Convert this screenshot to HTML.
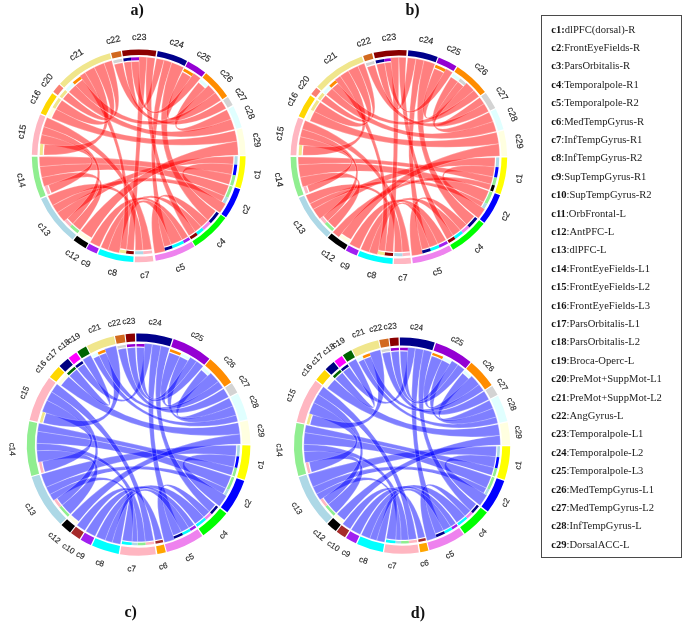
<!DOCTYPE html>
<html><head><meta charset="utf-8"><style>
html,body{margin:0;padding:0;background:#fff;}
body{width:685px;height:626px;position:relative;overflow:hidden;}
svg{position:absolute;left:0;top:0;}
.wrap{position:absolute;left:0;top:0;width:685px;height:626px;filter:blur(0.4px);}
.lab{position:absolute;font-family:"Liberation Serif",serif;font-weight:bold;font-size:16px;line-height:1;color:#111;}
.box{position:absolute;left:541.4px;top:14.7px;width:141px;height:543.6px;border:1px solid #4a4a4a;box-sizing:border-box;}
.li{position:absolute;left:551.2px;font-family:"Liberation Serif",serif;font-size:10.6px;line-height:1;color:#222;white-space:nowrap;}
.li b{font-weight:bold;color:#111;}
</style></head><body>
<div class="wrap">
<svg width="685" height="626" viewBox="0 0 685 626">
<g transform="translate(138.7 155.8) scale(1.0047 1) translate(-138.7 -155.8)">
<g fill="#FF0000" fill-opacity="0.5" stroke="#fff" stroke-opacity="0.55" stroke-width="0.45">
<path d="M233.1 156.29A94.4 94.4 0 0 1 232.71 164.36Q138.7 155.8 64.44 221.27A99 99 0 0 1 57.64 212.64Q138.7 155.8 233.1 156.29Z"/>
<path d="M224.12 195.99A94.4 94.4 0 0 1 221.26 201.57Q138.7 155.8 57.64 212.64A99 99 0 0 1 53.05 205.45Q138.7 155.8 224.12 195.99Z"/>
<path d="M142.98 250.1A94.4 94.4 0 0 1 135.24 250.14Q138.7 155.8 53.05 205.45A99 99 0 0 1 48.26 196.07Q138.7 155.8 142.98 250.1Z"/>
<path d="M232.71 164.36A94.4 94.4 0 0 1 231.2 174.62Q138.7 155.8 225.29 203.8A99 99 0 0 1 219.6 212.87Q138.7 155.8 232.71 164.36Z"/>
<path d="M80.32 229.98A94.4 94.4 0 0 1 73.12 223.71Q138.7 155.8 44.55 186.39A99 99 0 0 1 42.1 177.45Q138.7 155.8 80.32 229.98Z"/>
<path d="M228.33 185.44A94.4 94.4 0 0 1 224.12 195.99Q138.7 155.8 42.1 177.45A99 99 0 0 1 40.29 166.56Q138.7 155.8 228.33 185.44Z"/>
<path d="M231.2 174.62A94.4 94.4 0 0 1 228.63 184.5Q138.7 155.8 40.29 166.56A99 99 0 0 1 39.7 156.66Q138.7 155.8 231.2 174.62Z"/>
<path d="M123.93 62.56A94.4 94.4 0 0 1 131.29 61.69Q138.7 155.8 156.4 58.4A99 99 0 0 1 164.03 60.1Q138.7 155.8 123.93 62.56Z"/>
<path d="M171.14 244.45A94.4 94.4 0 0 1 163.93 246.77Q138.7 155.8 164.03 60.1A99 99 0 0 1 171.67 62.45Q138.7 155.8 171.14 244.45Z"/>
<path d="M215.26 211.02A94.4 94.4 0 0 1 207.51 220.42Q138.7 155.8 171.67 62.45A99 99 0 0 1 183.49 67.51Q138.7 155.8 215.26 211.02Z"/>
<path d="M207.51 220.42A94.4 94.4 0 0 1 200.88 226.83Q138.7 155.8 165.16 251.2A99 99 0 0 1 154.53 253.53Q138.7 155.8 207.51 220.42Z"/>
<path d="M182 239.69A94.4 94.4 0 0 1 171.14 244.45Q138.7 155.8 119.3 252.88A99 99 0 0 1 107.99 249.92Q138.7 155.8 182 239.69Z"/>
<path d="M200.88 226.83A94.4 94.4 0 0 1 194.98 231.59Q138.7 155.8 107.99 249.92A99 99 0 0 1 100.97 247.33Q138.7 155.8 200.88 226.83Z"/>
<path d="M133.92 250.08A94.4 94.4 0 0 1 126.54 249.41Q138.7 155.8 139.05 56.8A99 99 0 0 1 146.98 57.15Q138.7 155.8 133.92 250.08Z"/>
<path d="M194.98 231.59A94.4 94.4 0 0 1 188.72 235.86Q138.7 155.8 146.98 57.15A99 99 0 0 1 155.04 58.16Q138.7 155.8 194.98 231.59Z"/>
<path d="M187.88 236.38A94.4 94.4 0 0 1 182 239.69Q138.7 155.8 99.7 246.79A99 99 0 0 1 90.4 242.22Q138.7 155.8 187.88 236.38Z"/>
<path d="M51.93 192.99A94.4 94.4 0 0 1 48.92 184.97Q138.7 155.8 40.44 143.73A99 99 0 0 1 42.02 134.47Q138.7 155.8 51.93 192.99Z"/>
<path d="M73.12 223.71A94.4 94.4 0 0 1 67.89 218.23Q138.7 155.8 42.02 134.47A99 99 0 0 1 44.16 126.44Q138.7 155.8 73.12 223.71Z"/>
<path d="M151.67 249.3A94.4 94.4 0 0 1 142.98 250.1Q138.7 155.8 44.16 126.44A99 99 0 0 1 47.44 117.44Q138.7 155.8 151.67 249.3Z"/>
<path d="M126.54 249.41A94.4 94.4 0 0 1 120.2 248.37Q138.7 155.8 80.09 76.01A99 99 0 0 1 85.32 72.43Q138.7 155.8 126.54 249.41Z"/>
<path d="M44.3 154.98A94.4 94.4 0 0 1 45 144.3Q138.7 155.8 85.32 72.43A99 99 0 0 1 94.5 67.21Q138.7 155.8 44.3 154.98Z"/>
<path d="M56.54 109.32A94.4 94.4 0 0 1 62.33 100.31Q138.7 155.8 94.5 67.21A99 99 0 0 1 104.19 63.01Q138.7 155.8 56.54 109.32Z"/>
<path d="M63.31 98.99A94.4 94.4 0 0 1 68.55 92.63Q138.7 155.8 104.19 63.01A99 99 0 0 1 111.91 60.49Q138.7 155.8 63.31 98.99Z"/>
<path d="M52.13 118.16A94.4 94.4 0 0 1 56.54 109.32Q138.7 155.8 234.42 130.51A99 99 0 0 1 236.61 141.18Q138.7 155.8 52.13 118.16Z"/>
<path d="M91.79 237.72A94.4 94.4 0 0 1 81.23 230.69Q138.7 155.8 236.61 141.18A99 99 0 0 1 237.7 155.11Q138.7 155.8 91.79 237.72Z"/>
<path d="M198.24 82.54A94.4 94.4 0 0 1 204.87 88.47Q138.7 155.8 226.35 109.78A99 99 0 0 1 230.68 119.18Q138.7 155.8 198.24 82.54Z"/>
<path d="M69.21 91.9A94.4 94.4 0 0 1 75.78 85.43Q138.7 155.8 230.68 119.18A99 99 0 0 1 234.1 129.34Q138.7 155.8 69.21 91.9Z"/>
<path d="M182.29 72.07A94.4 94.4 0 0 1 190.8 77.08Q138.7 155.8 208.09 85.19A99 99 0 0 1 214.98 92.69Q138.7 155.8 182.29 72.07Z"/>
<path d="M75.78 85.43A94.4 94.4 0 0 1 82.81 79.72Q138.7 155.8 214.98 92.69A99 99 0 0 1 220.58 100.15Q138.7 155.8 75.78 85.43Z"/>
<path d="M114.27 64.62A94.4 94.4 0 0 1 122.79 62.75Q138.7 155.8 221.25 101.16A99 99 0 0 1 225.7 108.56Q138.7 155.8 114.27 64.62Z"/>
<path d="M131.29 61.69A94.4 94.4 0 0 1 139.03 61.4Q138.7 155.8 193.34 73.25A99 99 0 0 1 200.19 78.21Q138.7 155.8 131.29 61.69Z"/>
</g>
<g>
<path fill="#ADD8E6" d="M237.2 156.32A98.5 98.5 0 0 1 236.79 164.73L233.81 164.46A95.5 95.5 0 0 0 234.2 156.3Z"/>
<path fill="#0000FF" d="M236.79 164.73A98.5 98.5 0 0 1 235.22 175.44L232.28 174.84A95.5 95.5 0 0 0 233.81 164.46Z"/>
<path fill="#90EE90" d="M235.22 175.44A98.5 98.5 0 0 1 232.54 185.75L229.68 184.84A95.5 95.5 0 0 0 232.28 174.84Z"/>
<path fill="#90EE90" d="M232.22 186.73A98.5 98.5 0 0 1 227.83 197.74L225.11 196.46A95.5 95.5 0 0 0 229.37 185.79Z"/>
<path fill="#ADD8E6" d="M227.83 197.74A98.5 98.5 0 0 1 224.85 203.55L222.23 202.1A95.5 95.5 0 0 0 225.11 196.46Z"/>
<path fill="#00008B" d="M218.59 213.42A98.5 98.5 0 0 1 210.5 223.23L208.32 221.17A95.5 95.5 0 0 0 216.16 211.66Z"/>
<path fill="#EE82EE" d="M210.5 223.23A98.5 98.5 0 0 1 203.58 229.91L201.6 227.66A95.5 95.5 0 0 0 208.32 221.17Z"/>
<path fill="#00FFFF" d="M203.58 229.91A98.5 98.5 0 0 1 197.43 234.88L195.64 232.47A95.5 95.5 0 0 0 201.6 227.66Z"/>
<path fill="#8B0000" d="M197.43 234.88A98.5 98.5 0 0 1 190.9 239.33L189.31 236.79A95.5 95.5 0 0 0 195.64 232.47Z"/>
<path fill="#A020F0" d="M190.02 239.87A98.5 98.5 0 0 1 183.88 243.33L182.5 240.66A95.5 95.5 0 0 0 188.46 237.31Z"/>
<path fill="#00FFFF" d="M183.88 243.33A98.5 98.5 0 0 1 172.55 248.3L171.52 245.48A95.5 95.5 0 0 0 182.5 240.66Z"/>
<path fill="#00008B" d="M172.55 248.3A98.5 98.5 0 0 1 165.02 250.72L164.22 247.83A95.5 95.5 0 0 0 171.52 245.48Z"/>
<path fill="#FFB6C1" d="M152.24 253.37A98.5 98.5 0 0 1 143.17 254.2L143.03 251.2A95.5 95.5 0 0 0 151.83 250.39Z"/>
<path fill="#ADD8E6" d="M143.17 254.2A98.5 98.5 0 0 1 135.09 254.23L135.2 251.24A95.5 95.5 0 0 0 143.03 251.2Z"/>
<path fill="#8B0000" d="M133.72 254.17A98.5 98.5 0 0 1 126.01 253.48L126.4 250.5A95.5 95.5 0 0 0 133.87 251.18Z"/>
<path fill="#F0E68C" d="M126.01 253.48A98.5 98.5 0 0 1 119.4 252.39L119.99 249.45A95.5 95.5 0 0 0 126.4 250.5Z"/>
<path fill="#FFFFE0" d="M89.75 241.27A98.5 98.5 0 0 1 78.74 233.95L80.56 231.57A95.5 95.5 0 0 0 91.24 238.67Z"/>
<path fill="#90EE90" d="M77.79 233.21A98.5 98.5 0 0 1 70.28 226.65L72.36 224.5A95.5 95.5 0 0 0 79.64 230.85Z"/>
<path fill="#FFB6C1" d="M70.28 226.65A98.5 98.5 0 0 1 64.81 220.94L67.06 218.96A95.5 95.5 0 0 0 72.36 224.5Z"/>
<path fill="#FFB6C1" d="M48.17 194.6A98.5 98.5 0 0 1 45.02 186.24L47.87 185.31A95.5 95.5 0 0 0 50.92 193.42Z"/>
<path fill="#F0E68C" d="M40.2 154.94A98.5 98.5 0 0 1 40.93 143.8L43.91 144.16A95.5 95.5 0 0 0 43.2 154.97Z"/>
<path fill="#FFFFE0" d="M48.37 116.52A98.5 98.5 0 0 1 52.97 107.3L55.58 108.77A95.5 95.5 0 0 0 51.12 117.72Z"/>
<path fill="#F0E68C" d="M52.97 107.3A98.5 98.5 0 0 1 59.01 97.9L61.44 99.67A95.5 95.5 0 0 0 55.58 108.77Z"/>
<path fill="#F0E68C" d="M60.03 96.52A98.5 98.5 0 0 1 65.5 89.89L67.73 91.9A95.5 95.5 0 0 0 62.43 98.33Z"/>
<path fill="#E0FFFF" d="M66.19 89.13A98.5 98.5 0 0 1 73.05 82.37L75.05 84.61A95.5 95.5 0 0 0 68.4 91.16Z"/>
<path fill="#FF8C00" d="M73.05 82.37A98.5 98.5 0 0 1 80.39 76.42L82.16 78.83A95.5 95.5 0 0 0 75.05 84.61Z"/>
<path fill="#D3D3D3" d="M113.21 60.66A98.5 98.5 0 0 1 122.1 58.71L122.61 61.67A95.5 95.5 0 0 0 113.98 63.55Z"/>
<path fill="#00008B" d="M123.29 58.51A98.5 98.5 0 0 1 130.97 57.6L131.21 60.59A95.5 95.5 0 0 0 123.76 61.48Z"/>
<path fill="#9400D3" d="M130.97 57.6A98.5 98.5 0 0 1 139.04 57.3L139.03 60.3A95.5 95.5 0 0 0 131.21 60.59Z"/>
<path fill="#FF8C00" d="M184.18 68.43A98.5 98.5 0 0 1 193.07 73.66L191.41 76.16A95.5 95.5 0 0 0 182.8 71.09Z"/>
<path fill="#E0FFFF" d="M200.82 79.36A98.5 98.5 0 0 1 207.74 85.54L205.64 87.68A95.5 95.5 0 0 0 198.93 81.69Z"/>
</g>
<g>
<path fill="#FFFF00" d="M245.1 156.36A106.4 106.4 0 0 1 240.06 188.15L234.73 186.45A100.8 100.8 0 0 0 239.5 156.33Z"/>
<path fill="#0000FF" d="M239.72 189.21A106.4 106.4 0 0 1 225.64 217.13L221.07 213.9A100.8 100.8 0 0 0 234.4 187.45Z"/>
<path fill="#00FF00" d="M225 218.04A106.4 106.4 0 0 1 195.08 246.03L192.12 241.28A100.8 100.8 0 0 0 220.46 214.76Z"/>
<path fill="#EE82EE" d="M194.14 246.62A106.4 106.4 0 0 1 155.71 260.83L154.82 255.3A100.8 100.8 0 0 0 191.22 241.84Z"/>
<path fill="#FFB6C1" d="M153.32 261.19A106.4 106.4 0 0 1 134.8 262.13L135.01 256.53A100.8 100.8 0 0 0 152.55 255.64Z"/>
<path fill="#00FFFF" d="M133.32 262.06A106.4 106.4 0 0 1 98.15 254.17L100.29 248.99A100.8 100.8 0 0 0 133.6 256.47Z"/>
<path fill="#A020F0" d="M96.78 253.6A106.4 106.4 0 0 1 86.79 248.68L89.52 243.79A100.8 100.8 0 0 0 98.99 248.45Z"/>
<path fill="#000000" d="M85.82 248.13A106.4 106.4 0 0 1 73.93 240.21L77.34 235.77A100.8 100.8 0 0 0 88.61 243.27Z"/>
<path fill="#ADD8E6" d="M72.9 239.42A106.4 106.4 0 0 1 41.5 199.08L46.61 196.8A100.8 100.8 0 0 0 76.36 235.01Z"/>
<path fill="#90EE90" d="M40.9 197.72A106.4 106.4 0 0 1 32.3 156.73L37.9 156.68A100.8 100.8 0 0 0 46.05 195.51Z"/>
<path fill="#FFB6C1" d="M32.3 154.87A106.4 106.4 0 0 1 40.61 114.57L45.78 116.74A100.8 100.8 0 0 0 37.9 154.92Z"/>
<path fill="#FFD700" d="M41.12 113.37A106.4 106.4 0 0 1 52.62 93.26L57.15 96.55A100.8 100.8 0 0 0 46.26 115.61Z"/>
<path fill="#FA8072" d="M53.73 91.77A106.4 106.4 0 0 1 59.63 84.6L63.79 88.35A100.8 100.8 0 0 0 58.2 95.14Z"/>
<path fill="#F0E68C" d="M60.38 83.78A106.4 106.4 0 0 1 109.91 53.37L111.42 58.76A100.8 100.8 0 0 0 64.5 87.57Z"/>
<path fill="#D2691E" d="M111.16 53.03A106.4 106.4 0 0 1 120.77 50.92L121.72 56.44A100.8 100.8 0 0 0 112.61 58.43Z"/>
<path fill="#8B0000" d="M122.06 50.71A106.4 106.4 0 0 1 156.26 50.86L155.34 56.38A100.8 100.8 0 0 0 122.93 56.24Z"/>
<path fill="#00008B" d="M157.72 51.11A106.4 106.4 0 0 1 186.84 60.91L184.31 65.91A100.8 100.8 0 0 0 156.72 56.62Z"/>
<path fill="#9400D3" d="M187.83 61.42A106.4 106.4 0 0 1 204.79 72.42L201.31 76.8A100.8 100.8 0 0 0 185.24 66.39Z"/>
<path fill="#FF8C00" d="M205.8 73.23A106.4 106.4 0 0 1 226.7 95.99L222.07 99.14A100.8 100.8 0 0 0 202.27 77.57Z"/>
<path fill="#D3D3D3" d="M227.43 97.07A106.4 106.4 0 0 1 232.21 105.03L227.28 107.7A100.8 100.8 0 0 0 222.76 100.16Z"/>
<path fill="#E0FFFF" d="M232.91 106.34A106.4 106.4 0 0 1 241.23 127.37L235.83 128.86A100.8 100.8 0 0 0 227.95 108.94Z"/>
<path fill="#FFFFE0" d="M241.57 128.62A106.4 106.4 0 0 1 245.1 155.06L239.5 155.1A100.8 100.8 0 0 0 236.16 130.05Z"/>
</g>
</g>
<g font-family="Liberation Sans, sans-serif" font-size="9.0" fill="#2a2a2a" stroke="#2a2a2a" stroke-width="0.15" text-anchor="middle">
<text transform="translate(260.03 174.93) rotate(-81)">c1</text>
<text transform="translate(248.39 210.84) rotate(-63.25)">c2</text>
<text transform="translate(222.63 245.08) rotate(-43.1)">c4</text>
<text transform="translate(181.32 270.49) rotate(-20.3)">c5</text>
<text transform="translate(144.91 277.92) rotate(-2.9)">c7</text>
<text transform="translate(111.8 275.11) rotate(12.65)">c8</text>
<text transform="translate(84.47 265.52) rotate(26.2)">c9</text>
<text transform="translate(70.63 257.59) rotate(33.65)">c12</text>
<text transform="translate(41.77 230.91) rotate(52.1)">c13</text>
<text transform="translate(18.48 180.91) rotate(78.15)">c14</text>
<text transform="translate(24.74 132.42) rotate(281.65)">c15</text>
<text transform="translate(37.68 98.34) rotate(299.75)">c16</text>
<text transform="translate(48.91 82.14) rotate(309.5)">c20</text>
<text transform="translate(77.82 57.12) rotate(328.45)">c21</text>
<text transform="translate(113.81 42.68) rotate(347.65)">c22</text>
<text transform="translate(139.21 40) rotate(360.25)">c23</text>
<text transform="translate(175.81 46.05) rotate(378.6)">c24</text>
<text transform="translate(201.99 58.63) rotate(392.95)">c25</text>
<text transform="translate(224.42 77.49) rotate(407.45)">c26</text>
<text transform="translate(238.44 96.16) rotate(419)">c27</text>
<text transform="translate(246.89 113.17) rotate(428.4)">c28</text>
<text transform="translate(254.04 140.48) rotate(442.4)">c29</text>
</g>
<g transform="translate(398.9 157) scale(1.0112 1) translate(-398.9 -157)">
<g fill="#FF0000" fill-opacity="0.5" stroke="#fff" stroke-opacity="0.55" stroke-width="0.45">
<path d="M494 157.5A95.1 95.1 0 0 1 493.48 166.94Q398.9 157 320.66 218.79A99.7 99.7 0 0 1 314.05 209.36Q398.9 157 494 157.5Z"/>
<path d="M482.63 202.09A95.1 95.1 0 0 1 479.99 206.69Q398.9 157 314.05 209.36A99.7 99.7 0 0 1 310.84 203.75Q398.9 157 482.63 202.09Z"/>
<path d="M402.22 252.04A95.1 95.1 0 0 1 394.42 251.99Q398.9 157 310.84 203.75A99.7 99.7 0 0 1 306.79 195.15Q398.9 157 402.22 252.04Z"/>
<path d="M493.48 166.94A95.1 95.1 0 0 1 491.89 176.93Q398.9 157 483.91 209.09A99.7 99.7 0 0 1 477.57 218.24Q398.9 157 493.48 166.94Z"/>
<path d="M335.64 228.01A95.1 95.1 0 0 1 328.56 221Q398.9 157 303.81 186.98A99.7 99.7 0 0 1 301.26 177.16Q398.9 157 335.64 228.01Z"/>
<path d="M487.74 190.93A95.1 95.1 0 0 1 482.63 202.09Q398.9 157 301.26 177.16A99.7 99.7 0 0 1 299.5 164.77Q398.9 157 487.74 190.93Z"/>
<path d="M491.89 176.93A95.1 95.1 0 0 1 489.99 184.33Q398.9 157 299.5 164.77A99.7 99.7 0 0 1 299.2 157Q398.9 157 491.89 176.93Z"/>
<path d="M489.99 184.33A95.1 95.1 0 0 1 488.09 189.99Q398.9 157 339.6 237.14A99.7 99.7 0 0 1 333.49 232.24Q398.9 157 489.99 184.33Z"/>
<path d="M376.7 64.53A95.1 95.1 0 0 1 384.84 62.94Q398.9 157 407.59 57.68A99.7 99.7 0 0 1 415.85 58.75Q398.9 157 376.7 64.53Z"/>
<path d="M429.23 247.13A95.1 95.1 0 0 1 421.42 249.39Q398.9 157 415.85 58.75A99.7 99.7 0 0 1 423.84 60.47Q398.9 157 429.23 247.13Z"/>
<path d="M473.33 216.2A95.1 95.1 0 0 1 465.79 224.6Q398.9 157 423.84 60.47A99.7 99.7 0 0 1 434.63 63.92Q398.9 157 473.33 216.2Z"/>
<path d="M465.79 224.6A95.1 95.1 0 0 1 459.65 230.17Q398.9 157 422.51 253.86A99.7 99.7 0 0 1 411.74 255.87Q398.9 157 465.79 224.6Z"/>
<path d="M437.43 243.95A95.1 95.1 0 0 1 429.23 247.13Q398.9 157 377.66 254.41A99.7 99.7 0 0 1 369.33 252.21Q398.9 157 437.43 243.95Z"/>
<path d="M459.65 230.17A95.1 95.1 0 0 1 452.49 235.56Q398.9 157 369.33 252.21A99.7 99.7 0 0 1 361.07 249.24Q398.9 157 459.65 230.17Z"/>
<path d="M393.26 251.93A95.1 95.1 0 0 1 385.17 251.1Q398.9 157 390.73 57.64A99.7 99.7 0 0 1 398.88 57.3Q398.9 157 393.26 251.93Z"/>
<path d="M452.49 235.56A95.1 95.1 0 0 1 446.45 239.36Q398.9 157 398.88 57.3A99.7 99.7 0 0 1 406.03 57.56Q398.9 157 452.49 235.56Z"/>
<path d="M445.44 239.93A95.1 95.1 0 0 1 437.43 243.95Q398.9 157 359.94 248.77A99.7 99.7 0 0 1 350.11 243.95Q398.9 157 445.44 239.93Z"/>
<path d="M310.54 192.16A95.1 95.1 0 0 1 308.2 185.6Q398.9 157 299.94 144.85A99.7 99.7 0 0 1 301.31 136.62Q398.9 157 310.54 192.16Z"/>
<path d="M328.56 221A95.1 95.1 0 0 1 324.27 215.94Q398.9 157 301.31 136.62A99.7 99.7 0 0 1 303.24 128.91Q398.9 157 328.56 221Z"/>
<path d="M409.67 251.49A95.1 95.1 0 0 1 402.22 252.04Q398.9 157 303.24 128.91A99.7 99.7 0 0 1 306.14 120.46Q398.9 157 409.67 251.49Z"/>
<path d="M385.17 251.1A95.1 95.1 0 0 1 378.64 249.92Q398.9 157 335.75 79.85A99.7 99.7 0 0 1 340.83 75.96Q398.9 157 385.17 251.1Z"/>
<path d="M303.81 155.34A95.1 95.1 0 0 1 304.51 145.41Q398.9 157 340.83 75.96A99.7 99.7 0 0 1 348.88 70.76Q398.9 157 303.81 155.34Z"/>
<path d="M315.32 111.62A95.1 95.1 0 0 1 321.09 102.32Q398.9 157 348.88 70.76A99.7 99.7 0 0 1 358.27 65.96Q398.9 157 315.32 111.62Z"/>
<path d="M321.96 101.1A95.1 95.1 0 0 1 326.37 95.49Q398.9 157 358.27 65.96A99.7 99.7 0 0 1 364.64 63.37Q398.9 157 321.96 101.1Z"/>
<path d="M310.91 120.91A95.1 95.1 0 0 1 315.32 111.62Q398.9 157 495.51 132.37A99.7 99.7 0 0 1 497.72 143.79Q398.9 157 310.91 120.91Z"/>
<path d="M351.35 239.36A95.1 95.1 0 0 1 342.33 233.45Q398.9 157 497.72 143.79A99.7 99.7 0 0 1 498.59 155.96Q398.9 157 351.35 239.36Z"/>
<path d="M450.42 77.06A95.1 95.1 0 0 1 457.19 81.86Q398.9 157 488.05 112.36A99.7 99.7 0 0 1 492.1 121.6Q398.9 157 450.42 77.06Z"/>
<path d="M327.13 94.61A95.1 95.1 0 0 1 332.84 88.59Q398.9 157 492.1 121.6A99.7 99.7 0 0 1 495.2 131.2Q398.9 157 327.13 94.61Z"/>
<path d="M433.91 68.58A95.1 95.1 0 0 1 443.25 72.88Q398.9 157 465.74 83.03A99.7 99.7 0 0 1 473.08 90.38Q398.9 157 433.91 68.58Z"/>
<path d="M332.84 88.59A95.1 95.1 0 0 1 338.67 83.41Q398.9 157 473.08 90.38A99.7 99.7 0 0 1 478.1 96.44Q398.9 157 332.84 88.59Z"/>
<path d="M457.19 81.86A95.1 95.1 0 0 1 462.66 86.44Q398.9 157 478.84 97.42A99.7 99.7 0 0 1 483.21 103.78Q398.9 157 457.19 81.86Z"/>
<path d="M367.47 67.24A95.1 95.1 0 0 1 375.25 64.89Q398.9 157 483.21 103.78A99.7 99.7 0 0 1 487.57 111.43Q398.9 157 367.47 67.24Z"/>
<path d="M384.84 62.94A95.1 95.1 0 0 1 391.11 62.22Q398.9 157 445.4 68.81A99.7 99.7 0 0 1 451.88 72.54Q398.9 157 384.84 62.94Z"/>
</g>
<g>
<path fill="#ADD8E6" d="M498.1 157.52A99.2 99.2 0 0 1 497.56 167.37L494.57 167.06A96.2 96.2 0 0 0 495.1 157.5Z"/>
<path fill="#0000FF" d="M497.56 167.37A99.2 99.2 0 0 1 495.9 177.79L492.96 177.17A96.2 96.2 0 0 0 494.57 167.06Z"/>
<path fill="#90EE90" d="M495.9 177.79A99.2 99.2 0 0 1 493.92 185.51L491.04 184.64A96.2 96.2 0 0 0 492.96 177.17Z"/>
<path fill="#000000" d="M493.92 185.51A99.2 99.2 0 0 1 491.94 191.42L489.12 190.38A96.2 96.2 0 0 0 491.04 184.64Z"/>
<path fill="#90EE90" d="M491.57 192.39A99.2 99.2 0 0 1 486.24 204.03L483.6 202.61A96.2 96.2 0 0 0 488.77 191.32Z"/>
<path fill="#ADD8E6" d="M486.24 204.03A99.2 99.2 0 0 1 483.48 208.83L480.92 207.26A96.2 96.2 0 0 0 483.6 202.61Z"/>
<path fill="#00008B" d="M476.53 218.75A99.2 99.2 0 0 1 468.68 227.51L466.57 225.38A96.2 96.2 0 0 0 474.19 216.89Z"/>
<path fill="#EE82EE" d="M468.68 227.51A99.2 99.2 0 0 1 462.27 233.32L460.35 231.02A96.2 96.2 0 0 0 466.57 225.38Z"/>
<path fill="#00FFFF" d="M462.27 233.32A99.2 99.2 0 0 1 454.8 238.95L453.11 236.47A96.2 96.2 0 0 0 460.35 231.02Z"/>
<path fill="#8B0000" d="M454.8 238.95A99.2 99.2 0 0 1 448.5 242.91L447 240.31A96.2 96.2 0 0 0 453.11 236.47Z"/>
<path fill="#A020F0" d="M447.45 243.51A99.2 99.2 0 0 1 439.09 247.69L437.87 244.95A96.2 96.2 0 0 0 445.98 240.89Z"/>
<path fill="#00FFFF" d="M439.09 247.69A99.2 99.2 0 0 1 430.54 251.02L429.58 248.18A96.2 96.2 0 0 0 437.87 244.95Z"/>
<path fill="#00008B" d="M430.54 251.02A99.2 99.2 0 0 1 422.39 253.38L421.68 250.46A96.2 96.2 0 0 0 429.58 248.18Z"/>
<path fill="#FFB6C1" d="M410.13 255.56A99.2 99.2 0 0 1 402.36 256.14L402.26 253.14A96.2 96.2 0 0 0 409.79 252.58Z"/>
<path fill="#ADD8E6" d="M402.36 256.14A99.2 99.2 0 0 1 394.23 256.09L394.37 253.09A96.2 96.2 0 0 0 402.26 253.14Z"/>
<path fill="#8B0000" d="M393.02 256.03A99.2 99.2 0 0 1 384.58 255.16L385.01 252.19A96.2 96.2 0 0 0 393.19 253.03Z"/>
<path fill="#F0E68C" d="M384.58 255.16A99.2 99.2 0 0 1 377.77 253.92L378.41 250.99A96.2 96.2 0 0 0 385.01 252.19Z"/>
<path fill="#FFFFE0" d="M349.3 242.91A99.2 99.2 0 0 1 339.89 236.74L341.68 234.33A96.2 96.2 0 0 0 350.8 240.31Z"/>
<path fill="#90EE90" d="M332.91 231.07A99.2 99.2 0 0 1 325.53 223.76L327.75 221.74A96.2 96.2 0 0 0 334.9 228.83Z"/>
<path fill="#FFB6C1" d="M325.53 223.76A99.2 99.2 0 0 1 321.05 218.48L323.4 216.62A96.2 96.2 0 0 0 327.75 221.74Z"/>
<path fill="#FFB6C1" d="M306.73 193.68A99.2 99.2 0 0 1 304.29 186.83L307.15 185.93A96.2 96.2 0 0 0 309.52 192.57Z"/>
<path fill="#F0E68C" d="M299.72 155.27A99.2 99.2 0 0 1 300.44 144.91L303.42 145.28A96.2 96.2 0 0 0 302.71 155.32Z"/>
<path fill="#FFFFE0" d="M307.12 119.36A99.2 99.2 0 0 1 311.72 109.67L314.36 111.1A96.2 96.2 0 0 0 309.89 120.5Z"/>
<path fill="#F0E68C" d="M311.72 109.67A99.2 99.2 0 0 1 317.74 99.96L320.19 101.68A96.2 96.2 0 0 0 314.36 111.1Z"/>
<path fill="#F0E68C" d="M318.65 98.69A99.2 99.2 0 0 1 323.24 92.84L325.53 94.78A96.2 96.2 0 0 0 321.07 100.46Z"/>
<path fill="#E0FFFF" d="M324.03 91.92A99.2 99.2 0 0 1 329.99 85.64L332.07 87.8A96.2 96.2 0 0 0 326.3 93.89Z"/>
<path fill="#FF8C00" d="M329.99 85.64A99.2 99.2 0 0 1 336.07 80.24L337.97 82.56A96.2 96.2 0 0 0 332.07 87.8Z"/>
<path fill="#D3D3D3" d="M366.11 63.37A99.2 99.2 0 0 1 374.23 60.92L374.98 63.82A96.2 96.2 0 0 0 367.1 66.21Z"/>
<path fill="#00008B" d="M375.74 60.54A99.2 99.2 0 0 1 384.24 58.89L384.68 61.86A96.2 96.2 0 0 0 376.44 63.46Z"/>
<path fill="#9400D3" d="M384.24 58.89A99.2 99.2 0 0 1 390.77 58.13L391.02 61.12A96.2 96.2 0 0 0 384.68 61.86Z"/>
<path fill="#FF8C00" d="M435.42 64.77A99.2 99.2 0 0 1 445.17 69.25L443.77 71.9A96.2 96.2 0 0 0 434.31 67.56Z"/>
<path fill="#E0FFFF" d="M452.64 73.62A99.2 99.2 0 0 1 459.7 78.62L457.86 80.99A96.2 96.2 0 0 0 451.01 76.14Z"/>
<path fill="#D3D3D3" d="M459.7 78.62A99.2 99.2 0 0 1 465.41 83.4L463.4 85.62A96.2 96.2 0 0 0 457.86 80.99Z"/>
</g>
<g>
<path fill="#FFFF00" d="M506 157.56A107.1 107.1 0 0 1 499.35 194.16L494.1 192.21A101.5 101.5 0 0 0 500.4 157.53Z"/>
<path fill="#0000FF" d="M498.95 195.21A107.1 107.1 0 0 1 483.41 222.79L478.99 219.35A101.5 101.5 0 0 0 493.72 193.21Z"/>
<path fill="#00FF00" d="M482.72 223.67A107.1 107.1 0 0 1 452.45 249.75L449.65 244.9A101.5 101.5 0 0 0 478.33 220.19Z"/>
<path fill="#EE82EE" d="M451.31 250.4A107.1 107.1 0 0 1 412.69 263.21L411.97 257.65A101.5 101.5 0 0 0 448.57 245.52Z"/>
<path fill="#FFB6C1" d="M411.02 263.41A107.1 107.1 0 0 1 393.85 263.98L394.12 258.39A101.5 101.5 0 0 0 410.39 257.85Z"/>
<path fill="#00FFFF" d="M392.55 263.91A107.1 107.1 0 0 1 358.26 256.09L360.39 250.91A101.5 101.5 0 0 0 392.88 258.32Z"/>
<path fill="#A020F0" d="M357.05 255.59A107.1 107.1 0 0 1 346.49 250.4L349.23 245.52A101.5 101.5 0 0 0 359.24 250.43Z"/>
<path fill="#000000" d="M345.35 249.75A107.1 107.1 0 0 1 328.64 237.83L332.31 233.6A101.5 101.5 0 0 0 348.15 244.9Z"/>
<path fill="#ADD8E6" d="M327.65 236.96A107.1 107.1 0 0 1 299.95 197.99L305.13 195.84A101.5 101.5 0 0 0 331.38 232.78Z"/>
<path fill="#90EE90" d="M299.39 196.6A107.1 107.1 0 0 1 291.8 157L297.4 157A101.5 101.5 0 0 0 304.59 194.53Z"/>
<path fill="#FFB6C1" d="M291.82 155.13A107.1 107.1 0 0 1 299.25 117.75L304.46 119.8A101.5 101.5 0 0 0 297.42 155.23Z"/>
<path fill="#FFD700" d="M299.81 116.36A107.1 107.1 0 0 1 311.28 95.42L315.86 98.64A101.5 101.5 0 0 0 304.99 118.49Z"/>
<path fill="#FA8072" d="M312.25 94.05A107.1 107.1 0 0 1 317.22 87.73L321.49 91.35A101.5 101.5 0 0 0 316.78 97.34Z"/>
<path fill="#F0E68C" d="M318.07 86.74A107.1 107.1 0 0 1 362.09 56.42L364.02 61.68A101.5 101.5 0 0 0 322.3 90.41Z"/>
<path fill="#D2691E" d="M363.5 55.92A107.1 107.1 0 0 1 372.27 53.26L373.66 58.69A101.5 101.5 0 0 0 365.35 61.2Z"/>
<path fill="#8B0000" d="M373.9 52.86A107.1 107.1 0 0 1 406.56 50.17L406.16 55.76A101.5 101.5 0 0 0 375.21 58.3Z"/>
<path fill="#00008B" d="M408.23 50.31A107.1 107.1 0 0 1 437.28 57.01L435.27 62.24A101.5 101.5 0 0 0 407.75 55.89Z"/>
<path fill="#9400D3" d="M438.33 57.42A107.1 107.1 0 0 1 455.81 66.27L452.84 71.02A101.5 101.5 0 0 0 436.26 62.63Z"/>
<path fill="#FF8C00" d="M456.92 66.98A107.1 107.1 0 0 1 483.98 91.95L479.53 95.35A101.5 101.5 0 0 0 453.88 71.68Z"/>
<path fill="#D3D3D3" d="M484.77 92.99A107.1 107.1 0 0 1 494.16 108.04L489.18 110.6A101.5 101.5 0 0 0 480.28 96.34Z"/>
<path fill="#E0FFFF" d="M494.66 109.05A107.1 107.1 0 0 1 502.35 129.28L496.94 130.73A101.5 101.5 0 0 0 489.66 111.55Z"/>
<path fill="#FFFFE0" d="M502.68 130.55A107.1 107.1 0 0 1 505.99 155.88L500.39 155.94A101.5 101.5 0 0 0 497.26 131.93Z"/>
</g>
</g>
<g font-family="Liberation Sans, sans-serif" font-size="9.0" fill="#2a2a2a" stroke="#2a2a2a" stroke-width="0.15" text-anchor="middle">
<text transform="translate(521.91 179.11) rotate(-79.7)">c1</text>
<text transform="translate(507.83 217.71) rotate(-60.6)">c2</text>
<text transform="translate(480.51 250.7) rotate(-40.75)">c4</text>
<text transform="translate(438.26 274.39) rotate(-18.35)">c5</text>
<text transform="translate(403.05 280.61) rotate(-1.9)">c7</text>
<text transform="translate(371.09 277.58) rotate(12.85)">c8</text>
<text transform="translate(343.8 268.02) rotate(26.15)">c9</text>
<text transform="translate(326.3 257.69) rotate(35.5)">c12</text>
<text transform="translate(296.99 228.65) rotate(54.6)">c13</text>
<text transform="translate(276.11 180.28) rotate(79.15)">c14</text>
<text transform="translate(282.63 134.14) rotate(281.25)">c15</text>
<text transform="translate(294.91 100.72) rotate(298.7)">c16</text>
<text transform="translate(305.67 84.6) rotate(308.15)">c20</text>
<text transform="translate(331.67 60.47) rotate(325.45)">c21</text>
<text transform="translate(364.54 44.83) rotate(343.15)">c22</text>
<text transform="translate(389.19 40.19) rotate(355.3)">c23</text>
<text transform="translate(425.57 42.8) rotate(373)">c24</text>
<text transform="translate(452.44 52.44) rotate(386.85)">c25</text>
<text transform="translate(479.3 70.87) rotate(402.7)">c26</text>
<text transform="translate(499.49 94.98) rotate(418.05)">c27</text>
<text transform="translate(509.72 115.38) rotate(429.2)">c28</text>
<text transform="translate(516.45 141.8) rotate(442.55)">c29</text>
</g>
<g transform="translate(138.6 444.6) scale(1.0063 1) translate(-138.6 -444.6)">
<g fill="#0000FF" fill-opacity="0.5" stroke="#fff" stroke-opacity="0.55" stroke-width="0.45">
<path d="M137.58 541.69A97.1 97.1 0 0 1 132 541.48Q138.6 444.6 54.13 500.51A101.3 101.3 0 0 1 50.38 494.38Q138.6 444.6 137.58 541.69Z"/>
<path d="M225.35 488.23A97.1 97.1 0 0 1 222.35 493.74Q138.6 444.6 50.38 494.38A101.3 101.3 0 0 1 46.7 487.22Q138.6 444.6 225.35 488.23Z"/>
<path d="M235.7 445.28A97.1 97.1 0 0 1 235.02 456.1Q138.6 444.6 46.7 487.22A101.3 101.3 0 0 1 41.73 474.22Q138.6 444.6 235.7 445.28Z"/>
<path d="M235.02 456.1A97.1 97.1 0 0 1 233.02 467.27Q138.6 444.6 225.97 495.86A101.3 101.3 0 0 1 218.97 506.27Q138.6 444.6 235.02 456.1Z"/>
<path d="M70.78 514.09A97.1 97.1 0 0 1 62.61 505.05Q138.6 444.6 38.84 462.19A101.3 101.3 0 0 1 37.48 450.7Q138.6 444.6 70.78 514.09Z"/>
<path d="M145.37 541.46A97.1 97.1 0 0 1 137.58 541.69Q138.6 444.6 37.48 450.7A101.3 101.3 0 0 1 37.31 443.31Q138.6 444.6 145.37 541.46Z"/>
<path d="M230.35 476.37A97.1 97.1 0 0 1 225.35 488.23Q138.6 444.6 37.31 443.31A101.3 101.3 0 0 1 38.2 431.13Q138.6 444.6 230.35 476.37Z"/>
<path d="M233.02 467.27A97.1 97.1 0 0 1 230.74 475.25Q138.6 444.6 38.2 431.13A101.3 101.3 0 0 1 39.55 423.37Q138.6 444.6 233.02 467.27Z"/>
<path d="M77.89 368.82A97.1 97.1 0 0 1 84.44 364.01Q138.6 444.6 144.61 343.48A101.3 101.3 0 0 1 152.29 344.23Q138.6 444.6 77.89 368.82Z"/>
<path d="M181.17 531.87A97.1 97.1 0 0 1 172.76 535.49Q138.6 444.6 152.29 344.23A101.3 101.3 0 0 1 160.84 345.77Q138.6 444.6 181.17 531.87Z"/>
<path d="M214.8 504.78A97.1 97.1 0 0 1 208.8 511.68Q138.6 444.6 160.84 345.77A101.3 101.3 0 0 1 169.23 348.04Q138.6 444.6 214.8 504.78Z"/>
<path d="M208.8 511.68A97.1 97.1 0 0 1 203.32 516.99Q138.6 444.6 174.24 539.42A101.3 101.3 0 0 1 164.31 542.58Q138.6 444.6 208.8 511.68Z"/>
<path d="M132 541.48A97.1 97.1 0 0 1 122.41 540.34Q138.6 444.6 120.49 544.27A101.3 101.3 0 0 1 112.27 542.42Q138.6 444.6 132 541.48Z"/>
<path d="M188.61 527.83A97.1 97.1 0 0 1 181.17 531.87Q138.6 444.6 112.27 542.42A101.3 101.3 0 0 1 105.21 540.24Q138.6 444.6 188.61 527.83Z"/>
<path d="M203.32 516.99A97.1 97.1 0 0 1 194.85 523.75Q138.6 444.6 105.21 540.24A101.3 101.3 0 0 1 96.43 536.71Q138.6 444.6 203.32 516.99Z"/>
<path d="M193.88 524.43A97.1 97.1 0 0 1 188.61 527.83Q138.6 444.6 95.31 536.18A101.3 101.3 0 0 1 86.12 531.25Q138.6 444.6 193.88 524.43Z"/>
<path d="M162.26 538.77A97.1 97.1 0 0 1 154.96 540.31Q138.6 444.6 85.07 530.6A101.3 101.3 0 0 1 77.35 525.29Q138.6 444.6 162.26 538.77Z"/>
<path d="M45.45 472.02A97.1 97.1 0 0 1 42.98 461.46Q138.6 444.6 42.82 411.62A101.3 101.3 0 0 1 47.54 400.21Q138.6 444.6 45.45 472.02Z"/>
<path d="M62.61 505.05A97.1 97.1 0 0 1 57.63 498.19Q138.6 444.6 47.54 400.21A101.3 101.3 0 0 1 52.18 391.75Q138.6 444.6 62.61 505.05Z"/>
<path d="M153.62 540.53A97.1 97.1 0 0 1 145.37 541.46Q138.6 444.6 52.18 391.75A101.3 101.3 0 0 1 57.49 383.92Q138.6 444.6 153.62 540.53Z"/>
<path d="M61.57 385.49A97.1 97.1 0 0 1 69.11 376.78Q138.6 444.6 237.5 422.67A101.3 101.3 0 0 1 239.35 434.06Q138.6 444.6 61.57 385.49Z"/>
<path d="M79.09 521.32A97.1 97.1 0 0 1 71.64 514.92Q138.6 444.6 239.35 434.06A101.3 101.3 0 0 1 239.9 443.89Q138.6 444.6 79.09 521.32Z"/>
<path d="M43.91 423.09A97.1 97.1 0 0 1 46.79 412.99Q138.6 444.6 104.95 349.05A101.3 101.3 0 0 1 116.16 345.82Q138.6 444.6 43.91 423.09Z"/>
<path d="M69.94 375.94A97.1 97.1 0 0 1 77.1 369.46Q138.6 444.6 83.13 359.84A101.3 101.3 0 0 1 90.89 355.24Q138.6 444.6 69.94 375.94Z"/>
<path d="M200.88 370.11A97.1 97.1 0 0 1 207.26 375.94Q138.6 444.6 228.54 397.98A101.3 101.3 0 0 1 232.3 406.1Q138.6 444.6 200.88 370.11Z"/>
<path d="M179.48 356.53A97.1 97.1 0 0 1 187.74 360.85Q138.6 444.6 232.3 406.1A101.3 101.3 0 0 1 235.54 415.2Q138.6 444.6 179.48 356.53Z"/>
<path d="M93.76 358.47A97.1 97.1 0 0 1 99.42 355.76Q138.6 444.6 235.54 415.2A101.3 101.3 0 0 1 237.22 421.47Q138.6 444.6 93.76 358.47Z"/>
<path d="M169.09 352.41A97.1 97.1 0 0 1 179.48 356.53Q138.6 444.6 210.23 372.97A101.3 101.3 0 0 1 217.92 381.59Q138.6 444.6 169.09 352.41Z"/>
<path d="M99.42 355.76A97.1 97.1 0 0 1 106.35 353.01Q138.6 444.6 217.92 381.59A101.3 101.3 0 0 1 222.48 387.81Q138.6 444.6 99.42 355.76Z"/>
<path d="M118.08 349.69A97.1 97.1 0 0 1 126.26 348.29Q138.6 444.6 223.07 388.69A101.3 101.3 0 0 1 228.04 397.04Q138.6 444.6 118.08 349.69Z"/>
<path d="M136.57 347.52A97.1 97.1 0 0 1 144.36 347.67Q138.6 444.6 189.86 357.23A101.3 101.3 0 0 1 196.35 361.37Q138.6 444.6 136.57 347.52Z"/>
<path d="M127.27 348.16A97.1 97.1 0 0 1 135.38 347.55Q138.6 444.6 196.35 361.37A101.3 101.3 0 0 1 202.76 366.21Q138.6 444.6 127.27 348.16Z"/>
</g>
<g>
<path fill="#ADD8E6" d="M239.3 445.3A100.7 100.7 0 0 1 238.59 456.52L236.01 456.22A98.1 98.1 0 0 0 236.7 445.28Z"/>
<path fill="#0000FF" d="M238.59 456.52A100.7 100.7 0 0 1 236.52 468.11L233.99 467.5A98.1 98.1 0 0 0 236.01 456.22Z"/>
<path fill="#90EE90" d="M236.52 468.11A100.7 100.7 0 0 1 234.15 476.39L231.68 475.57A98.1 98.1 0 0 0 233.99 467.5Z"/>
<path fill="#90EE90" d="M233.76 477.55A100.7 100.7 0 0 1 228.56 489.85L226.24 488.68A98.1 98.1 0 0 0 231.3 476.7Z"/>
<path fill="#ADD8E6" d="M228.56 489.85A100.7 100.7 0 0 1 225.46 495.56L223.21 494.24A98.1 98.1 0 0 0 226.24 488.68Z"/>
<path fill="#00008B" d="M217.63 507.01A100.7 100.7 0 0 1 211.4 514.17L209.52 512.38A98.1 98.1 0 0 0 215.59 505.4Z"/>
<path fill="#EE82EE" d="M211.4 514.17A100.7 100.7 0 0 1 205.72 519.67L203.99 517.73A98.1 98.1 0 0 0 209.52 512.38Z"/>
<path fill="#00FFFF" d="M205.72 519.67A100.7 100.7 0 0 1 196.93 526.68L195.43 524.56A98.1 98.1 0 0 0 203.99 517.73Z"/>
<path fill="#A020F0" d="M195.93 527.39A100.7 100.7 0 0 1 190.46 530.92L189.13 528.69A98.1 98.1 0 0 0 194.45 525.25Z"/>
<path fill="#00FFFF" d="M190.46 530.92A100.7 100.7 0 0 1 182.74 535.11L181.6 532.77A98.1 98.1 0 0 0 189.13 528.69Z"/>
<path fill="#00008B" d="M182.74 535.11A100.7 100.7 0 0 1 174.03 538.86L173.12 536.43A98.1 98.1 0 0 0 181.6 532.77Z"/>
<path fill="#A52A2A" d="M163.13 542.27A100.7 100.7 0 0 1 155.57 543.86L155.13 541.3A98.1 98.1 0 0 0 162.5 539.74Z"/>
<path fill="#FFB6C1" d="M154.18 544.09A100.7 100.7 0 0 1 145.62 545.05L145.44 542.46A98.1 98.1 0 0 0 153.78 541.52Z"/>
<path fill="#90EE90" d="M145.62 545.05A100.7 100.7 0 0 1 137.55 545.29L137.57 542.69A98.1 98.1 0 0 0 145.44 542.46Z"/>
<path fill="#ADD8E6" d="M137.55 545.29A100.7 100.7 0 0 1 131.75 545.07L131.93 542.47A98.1 98.1 0 0 0 137.57 542.69Z"/>
<path fill="#00FFFF" d="M131.75 545.07A100.7 100.7 0 0 1 121.81 543.89L122.24 541.33A98.1 98.1 0 0 0 131.93 542.47Z"/>
<path fill="#FFFFE0" d="M76.88 524.17A100.7 100.7 0 0 1 69.16 517.52L70.95 515.64A98.1 98.1 0 0 0 78.47 522.11Z"/>
<path fill="#90EE90" d="M68.27 516.67A100.7 100.7 0 0 1 59.79 507.29L61.83 505.67A98.1 98.1 0 0 0 70.09 514.81Z"/>
<path fill="#FFB6C1" d="M59.79 507.29A100.7 100.7 0 0 1 54.63 500.18L56.8 498.75A98.1 98.1 0 0 0 61.83 505.67Z"/>
<path fill="#FFB6C1" d="M42 473.03A100.7 100.7 0 0 1 39.43 462.09L41.99 461.63A98.1 98.1 0 0 0 44.49 472.3Z"/>
<path fill="#F0E68C" d="M40.4 422.29A100.7 100.7 0 0 1 43.39 411.82L45.84 412.66A98.1 98.1 0 0 0 42.94 422.87Z"/>
<path fill="#FFFFE0" d="M58.71 383.3A100.7 100.7 0 0 1 66.53 374.27L68.39 376.09A98.1 98.1 0 0 0 60.77 384.88Z"/>
<path fill="#006400" d="M67.39 373.39A100.7 100.7 0 0 1 74.82 366.67L76.47 368.69A98.1 98.1 0 0 0 69.23 375.23Z"/>
<path fill="#00008B" d="M75.64 366.01A100.7 100.7 0 0 1 82.44 361.02L83.89 363.18A98.1 98.1 0 0 0 77.26 368.04Z"/>
<path fill="#E0FFFF" d="M92.1 355.28A100.7 100.7 0 0 1 97.96 352.46L99.01 354.84A98.1 98.1 0 0 0 93.3 357.58Z"/>
<path fill="#FF8C00" d="M97.96 352.46A100.7 100.7 0 0 1 105.15 349.62L106.01 352.07A98.1 98.1 0 0 0 99.01 354.84Z"/>
<path fill="#D3D3D3" d="M117.32 346.17A100.7 100.7 0 0 1 125.8 344.72L126.13 347.3A98.1 98.1 0 0 0 117.87 348.72Z"/>
<path fill="#9400D3" d="M126.85 344.59A100.7 100.7 0 0 1 135.26 343.96L135.35 346.55A98.1 98.1 0 0 0 127.15 347.17Z"/>
<path fill="#9400D3" d="M136.49 343.92A100.7 100.7 0 0 1 144.57 344.08L144.42 346.67A98.1 98.1 0 0 0 136.55 346.52Z"/>
<path fill="#FF8C00" d="M170.22 348.99A100.7 100.7 0 0 1 181 353.26L179.9 355.62A98.1 98.1 0 0 0 169.4 351.46Z"/>
<path fill="#E0FFFF" d="M181 353.26A100.7 100.7 0 0 1 189.56 357.74L188.24 359.99A98.1 98.1 0 0 0 179.9 355.62Z"/>
<path fill="#E0FFFF" d="M203.19 367.35A100.7 100.7 0 0 1 209.81 373.39L207.97 375.23A98.1 98.1 0 0 0 201.53 369.34Z"/>
</g>
<g>
<path fill="#FFFF00" d="M249.7 445.38A111.1 111.1 0 0 1 244.02 479.67L236.43 477.14A103.1 103.1 0 0 0 241.7 445.32Z"/>
<path fill="#0000FF" d="M243.58 480.95A111.1 111.1 0 0 1 226.74 512.23L220.39 507.36A103.1 103.1 0 0 0 236.02 478.34Z"/>
<path fill="#00FF00" d="M225.79 513.46A111.1 111.1 0 0 1 202.96 535.16L198.32 528.64A103.1 103.1 0 0 0 219.51 508.5Z"/>
<path fill="#EE82EE" d="M201.85 535.94A111.1 111.1 0 0 1 166.79 552.06L164.76 544.33A103.1 103.1 0 0 0 197.29 529.36Z"/>
<path fill="#FFA500" d="M165.67 552.35A111.1 111.1 0 0 1 157.32 554.11L155.97 546.23A103.1 103.1 0 0 0 163.72 544.59Z"/>
<path fill="#FFB6C1" d="M155.79 554.36A111.1 111.1 0 0 1 120.07 554.14L121.41 546.26A103.1 103.1 0 0 0 154.55 546.46Z"/>
<path fill="#00FFFF" d="M118.74 553.91A111.1 111.1 0 0 1 92.35 545.62L95.68 538.34A103.1 103.1 0 0 0 120.17 546.04Z"/>
<path fill="#A020F0" d="M91.12 545.04A111.1 111.1 0 0 1 81.05 539.63L85.19 532.79A103.1 103.1 0 0 0 94.54 537.81Z"/>
<path fill="#A52A2A" d="M79.89 538.92A111.1 111.1 0 0 1 71.43 533.09L76.27 526.72A103.1 103.1 0 0 0 84.12 532.13Z"/>
<path fill="#000000" d="M70.51 532.39A111.1 111.1 0 0 1 61.98 525.06L67.5 519.26A103.1 103.1 0 0 0 75.41 526.06Z"/>
<path fill="#ADD8E6" d="M61.01 524.11A111.1 111.1 0 0 1 32.35 477.08L40 474.74A103.1 103.1 0 0 0 66.59 518.39Z"/>
<path fill="#90EE90" d="M32.02 475.97A111.1 111.1 0 0 1 29.97 421.31L37.79 422.99A103.1 103.1 0 0 0 39.69 473.71Z"/>
<path fill="#FFB6C1" d="M30.26 419.99A111.1 111.1 0 0 1 49.64 378.05L56.04 382.84A103.1 103.1 0 0 0 38.06 421.76Z"/>
<path fill="#FFD700" d="M50.46 376.97A111.1 111.1 0 0 1 59.09 367.01L64.81 372.59A103.1 103.1 0 0 0 56.81 381.84Z"/>
<path fill="#000080" d="M60.04 366.04A111.1 111.1 0 0 1 68.23 358.63L73.3 364.82A103.1 103.1 0 0 0 65.7 371.7Z"/>
<path fill="#FF00FF" d="M69.14 357.89A111.1 111.1 0 0 1 76.63 352.39L81.1 359.03A103.1 103.1 0 0 0 74.14 364.14Z"/>
<path fill="#006400" d="M77.77 351.64A111.1 111.1 0 0 1 86.27 346.6L90.04 353.65A103.1 103.1 0 0 0 82.15 358.33Z"/>
<path fill="#F0E68C" d="M87.3 346.05A111.1 111.1 0 0 1 113.99 336.26L115.76 344.06A103.1 103.1 0 0 0 90.99 353.15Z"/>
<path fill="#D2691E" d="M115.12 336.01A111.1 111.1 0 0 1 124.48 334.4L125.5 342.34A103.1 103.1 0 0 0 116.81 343.83Z"/>
<path fill="#8B0000" d="M125.64 334.26A111.1 111.1 0 0 1 134.92 333.56L135.18 341.56A103.1 103.1 0 0 0 126.57 342.2Z"/>
<path fill="#00008B" d="M136.27 333.52A111.1 111.1 0 0 1 172.19 338.7L169.77 346.33A103.1 103.1 0 0 0 136.44 341.52Z"/>
<path fill="#9400D3" d="M173.48 339.12A111.1 111.1 0 0 1 208.97 358.63L203.9 364.82A103.1 103.1 0 0 0 170.97 346.71Z"/>
<path fill="#FF8C00" d="M209.87 359.37A111.1 111.1 0 0 1 230.6 382.31L223.97 386.8A103.1 103.1 0 0 0 204.73 365.51Z"/>
<path fill="#D3D3D3" d="M231.24 383.28A111.1 111.1 0 0 1 236.7 392.44L229.63 396.2A103.1 103.1 0 0 0 224.57 387.7Z"/>
<path fill="#E0FFFF" d="M237.24 393.47A111.1 111.1 0 0 1 246.76 419.23L238.98 421.06A103.1 103.1 0 0 0 230.13 397.15Z"/>
<path fill="#FFFFE0" d="M247.07 420.55A111.1 111.1 0 0 1 249.7 443.82L241.7 443.88A103.1 103.1 0 0 0 239.26 422.29Z"/>
</g>
</g>
<g font-family="Liberation Sans, sans-serif" font-size="8.2" fill="#2a2a2a" stroke="#2a2a2a" stroke-width="0.15" text-anchor="middle">
<text transform="translate(263.27 465.33) rotate(-80.6)">c1</text>
<text transform="translate(249.72 504.76) rotate(-61.7)">c2</text>
<text transform="translate(225.27 536.58) rotate(-43.55)">c4</text>
<text transform="translate(190.66 559.89) rotate(-24.7)">c5</text>
<text transform="translate(163.63 568.78) rotate(-11.9)">c6</text>
<text transform="translate(131.51 571.37) rotate(2.6)">c7</text>
<text transform="translate(99.01 565.66) rotate(17.45)">c8</text>
<text transform="translate(79.33 557.67) rotate(27)">c9</text>
<text transform="translate(67.01 550.55) rotate(33.4)">c10</text>
<text transform="translate(52.69 539.65) rotate(41.5)">c12</text>
<text transform="translate(28.26 510.62) rotate(58.65)">c13</text>
<text transform="translate(9.7 449.36) rotate(87.85)">c14</text>
<text transform="translate(26.75 393.85) rotate(294.8)">c15</text>
<text transform="translate(42.66 368.45) rotate(309)">c16</text>
<text transform="translate(53.32 356.98) rotate(316.4)">c17</text>
<text transform="translate(65.2 347.08) rotate(323.7)">c18</text>
<text transform="translate(75.22 340.5) rotate(329.35)">c19</text>
<text transform="translate(95.35 331.01) rotate(339.85)">c21</text>
<text transform="translate(114.69 325.7) rotate(349.3)">c22</text>
<text transform="translate(129.02 323.88) rotate(356.1)">c23</text>
<text transform="translate(154.67 324.84) rotate(368.2)">c24</text>
<text transform="translate(195.97 338.57) rotate(388.8)">c25</text>
<text transform="translate(227.66 363.48) rotate(407.9)">c26</text>
<text transform="translate(241.96 382.73) rotate(419.25)">c27</text>
<text transform="translate(251.52 402.62) rotate(429.7)">c28</text>
<text transform="translate(258.31 431.01) rotate(443.55)">c29</text>
</g>
<g transform="translate(402.1 445.6) scale(1.0000 1) translate(-402.1 -445.6)">
<g fill="#0000FF" fill-opacity="0.5" stroke="#fff" stroke-opacity="0.55" stroke-width="0.45">
<path d="M401.11 539.89A94.3 94.3 0 0 1 395.69 539.68Q402.1 445.6 320.13 499.86A98.3 98.3 0 0 1 316.49 493.91Q402.1 445.6 401.11 539.89Z"/>
<path d="M486.34 487.97A94.3 94.3 0 0 1 483.44 493.32Q402.1 445.6 316.49 493.91A98.3 98.3 0 0 1 312.92 486.96Q402.1 445.6 486.34 487.97Z"/>
<path d="M496.4 446.26A94.3 94.3 0 0 1 495.74 456.77Q402.1 445.6 312.92 486.96A98.3 98.3 0 0 1 308.1 474.34Q402.1 445.6 496.4 446.26Z"/>
<path d="M495.74 456.77A94.3 94.3 0 0 1 493.79 467.61Q402.1 445.6 486.89 495.34A98.3 98.3 0 0 1 480.09 505.44Q402.1 445.6 495.74 456.77Z"/>
<path d="M336.24 513.09A94.3 94.3 0 0 1 328.3 504.3Q402.1 445.6 305.29 462.67A98.3 98.3 0 0 1 303.98 451.52Q402.1 445.6 336.24 513.09Z"/>
<path d="M408.68 539.67A94.3 94.3 0 0 1 401.11 539.89Q402.1 445.6 303.98 451.52A98.3 98.3 0 0 1 303.81 444.34Q402.1 445.6 408.68 539.67Z"/>
<path d="M491.21 476.46A94.3 94.3 0 0 1 486.34 487.97Q402.1 445.6 303.81 444.34A98.3 98.3 0 0 1 304.67 432.53Q402.1 445.6 491.21 476.46Z"/>
<path d="M493.79 467.61A94.3 94.3 0 0 1 491.58 475.37Q402.1 445.6 304.67 432.53A98.3 98.3 0 0 1 305.98 424.99Q402.1 445.6 493.79 467.61Z"/>
<path d="M343.14 372.01A94.3 94.3 0 0 1 349.5 367.33Q402.1 445.6 407.93 347.47A98.3 98.3 0 0 1 415.39 348.2Q402.1 445.6 343.14 372.01Z"/>
<path d="M443.44 530.36A94.3 94.3 0 0 1 435.28 533.87Q402.1 445.6 415.39 348.2A98.3 98.3 0 0 1 423.69 349.7Q402.1 445.6 443.44 530.36Z"/>
<path d="M476.1 504.05A94.3 94.3 0 0 1 470.28 510.75Q402.1 445.6 423.69 349.7A98.3 98.3 0 0 1 431.82 351.9Q402.1 445.6 476.1 504.05Z"/>
<path d="M470.28 510.75A94.3 94.3 0 0 1 464.95 515.9Q402.1 445.6 436.69 537.61A98.3 98.3 0 0 1 427.04 540.68Q402.1 445.6 470.28 510.75Z"/>
<path d="M395.69 539.68A94.3 94.3 0 0 1 386.37 538.58Q402.1 445.6 384.52 542.32A98.3 98.3 0 0 1 376.55 540.52Q402.1 445.6 395.69 539.68Z"/>
<path d="M450.67 526.43A94.3 94.3 0 0 1 443.44 530.36Q402.1 445.6 376.55 540.52A98.3 98.3 0 0 1 369.69 538.41Q402.1 445.6 450.67 526.43Z"/>
<path d="M464.95 515.9A94.3 94.3 0 0 1 456.73 522.47Q402.1 445.6 369.69 538.41A98.3 98.3 0 0 1 361.18 534.98Q402.1 445.6 464.95 515.9Z"/>
<path d="M455.78 523.13A94.3 94.3 0 0 1 450.67 526.43Q402.1 445.6 360.09 534.47A98.3 98.3 0 0 1 351.18 529.68Q402.1 445.6 455.78 523.13Z"/>
<path d="M425.07 537.06A94.3 94.3 0 0 1 417.99 538.55Q402.1 445.6 350.15 529.05A98.3 98.3 0 0 1 342.67 523.9Q402.1 445.6 425.07 537.06Z"/>
<path d="M311.64 472.22A94.3 94.3 0 0 1 309.23 461.98Q402.1 445.6 309.16 413.6A98.3 98.3 0 0 1 313.74 402.53Q402.1 445.6 311.64 472.22Z"/>
<path d="M328.3 504.3A94.3 94.3 0 0 1 323.46 497.65Q402.1 445.6 313.74 402.53A98.3 98.3 0 0 1 318.24 394.31Q402.1 445.6 328.3 504.3Z"/>
<path d="M416.69 538.76A94.3 94.3 0 0 1 408.68 539.67Q402.1 445.6 318.24 394.31A98.3 98.3 0 0 1 323.39 386.72Q402.1 445.6 416.69 538.76Z"/>
<path d="M327.29 388.19A94.3 94.3 0 0 1 334.61 379.74Q402.1 445.6 498.07 424.32A98.3 98.3 0 0 1 499.87 435.38Q402.1 445.6 327.29 388.19Z"/>
<path d="M344.3 520.11A94.3 94.3 0 0 1 337.07 513.89Q402.1 445.6 499.87 435.38A98.3 98.3 0 0 1 500.4 444.91Q402.1 445.6 344.3 520.11Z"/>
<path d="M310.14 424.71A94.3 94.3 0 0 1 312.94 414.9Q402.1 445.6 369.45 352.88A98.3 98.3 0 0 1 380.32 349.74Q402.1 445.6 310.14 424.71Z"/>
<path d="M335.42 378.92A94.3 94.3 0 0 1 342.37 372.63Q402.1 445.6 348.27 363.35A98.3 98.3 0 0 1 355.8 358.89Q402.1 445.6 335.42 378.92Z"/>
<path d="M462.59 373.26A94.3 94.3 0 0 1 468.78 378.92Q402.1 445.6 489.37 400.36A98.3 98.3 0 0 1 493.02 408.24Q402.1 445.6 462.59 373.26Z"/>
<path d="M441.8 360.07A94.3 94.3 0 0 1 449.82 364.26Q402.1 445.6 493.02 408.24A98.3 98.3 0 0 1 496.17 417.07Q402.1 445.6 441.8 360.07Z"/>
<path d="M358.56 361.95A94.3 94.3 0 0 1 364.05 359.32Q402.1 445.6 496.17 417.07A98.3 98.3 0 0 1 497.8 423.15Q402.1 445.6 358.56 361.95Z"/>
<path d="M431.71 356.07A94.3 94.3 0 0 1 441.8 360.07Q402.1 445.6 471.61 376.09A98.3 98.3 0 0 1 479.07 384.46Q402.1 445.6 431.71 356.07Z"/>
<path d="M364.05 359.32A94.3 94.3 0 0 1 370.78 356.65Q402.1 445.6 479.07 384.46A98.3 98.3 0 0 1 483.5 390.49Q402.1 445.6 364.05 359.32Z"/>
<path d="M382.17 353.43A94.3 94.3 0 0 1 390.12 352.06Q402.1 445.6 484.07 391.34A98.3 98.3 0 0 1 488.89 399.45Q402.1 445.6 382.17 353.43Z"/>
<path d="M400.13 351.32A94.3 94.3 0 0 1 407.69 351.47Q402.1 445.6 451.84 360.81A98.3 98.3 0 0 1 458.14 364.84Q402.1 445.6 400.13 351.32Z"/>
<path d="M391.1 351.94A94.3 94.3 0 0 1 398.97 351.35Q402.1 445.6 458.14 364.84A98.3 98.3 0 0 1 464.36 369.53Q402.1 445.6 391.1 351.94Z"/>
</g>
<g>
<path fill="#ADD8E6" d="M500 446.28A97.9 97.9 0 0 1 499.31 457.19L496.73 456.88A95.3 95.3 0 0 0 497.4 446.27Z"/>
<path fill="#0000FF" d="M499.31 457.19A97.9 97.9 0 0 1 497.3 468.45L494.77 467.85A95.3 95.3 0 0 0 496.73 456.88Z"/>
<path fill="#90EE90" d="M497.3 468.45A97.9 97.9 0 0 1 494.99 476.5L492.53 475.68A95.3 95.3 0 0 0 494.77 467.85Z"/>
<path fill="#90EE90" d="M494.61 477.63A97.9 97.9 0 0 1 489.56 489.59L487.24 488.42A95.3 95.3 0 0 0 492.15 476.78Z"/>
<path fill="#ADD8E6" d="M489.56 489.59A97.9 97.9 0 0 1 486.54 495.14L484.3 493.83A95.3 95.3 0 0 0 487.24 488.42Z"/>
<path fill="#00008B" d="M478.93 506.28A97.9 97.9 0 0 1 472.88 513.24L471 511.44A95.3 95.3 0 0 0 476.89 504.66Z"/>
<path fill="#EE82EE" d="M472.88 513.24A97.9 97.9 0 0 1 467.35 518.58L465.62 516.64A95.3 95.3 0 0 0 471 511.44Z"/>
<path fill="#00FFFF" d="M467.35 518.58A97.9 97.9 0 0 1 458.81 525.4L457.31 523.28A95.3 95.3 0 0 0 465.62 516.64Z"/>
<path fill="#A020F0" d="M457.83 526.09A97.9 97.9 0 0 1 452.52 529.52L451.18 527.29A95.3 95.3 0 0 0 456.35 523.95Z"/>
<path fill="#00FFFF" d="M452.52 529.52A97.9 97.9 0 0 1 445.02 533.59L443.88 531.26A95.3 95.3 0 0 0 451.18 527.29Z"/>
<path fill="#00008B" d="M445.02 533.59A97.9 97.9 0 0 1 436.55 537.24L435.63 534.81A95.3 95.3 0 0 0 443.88 531.26Z"/>
<path fill="#A52A2A" d="M425.95 540.55A97.9 97.9 0 0 1 418.6 542.1L418.16 539.54A95.3 95.3 0 0 0 425.32 538.03Z"/>
<path fill="#FFB6C1" d="M417.25 542.32A97.9 97.9 0 0 1 408.93 543.26L408.75 540.67A95.3 95.3 0 0 0 416.84 539.75Z"/>
<path fill="#90EE90" d="M408.93 543.26A97.9 97.9 0 0 1 401.07 543.49L401.1 540.89A95.3 95.3 0 0 0 408.75 540.67Z"/>
<path fill="#ADD8E6" d="M401.07 543.49A97.9 97.9 0 0 1 395.44 543.27L395.62 540.68A95.3 95.3 0 0 0 401.1 540.89Z"/>
<path fill="#00FFFF" d="M395.44 543.27A97.9 97.9 0 0 1 385.77 542.13L386.21 539.57A95.3 95.3 0 0 0 395.62 540.68Z"/>
<path fill="#FFFFE0" d="M342.1 522.96A97.9 97.9 0 0 1 334.59 516.5L336.38 514.61A95.3 95.3 0 0 0 343.69 520.9Z"/>
<path fill="#90EE90" d="M333.73 515.67A97.9 97.9 0 0 1 325.48 506.54L327.52 504.93A95.3 95.3 0 0 0 335.54 513.81Z"/>
<path fill="#FFB6C1" d="M325.48 506.54A97.9 97.9 0 0 1 320.46 499.63L322.63 498.2A95.3 95.3 0 0 0 327.52 504.93Z"/>
<path fill="#FFB6C1" d="M308.18 473.24A97.9 97.9 0 0 1 305.69 462.6L308.25 462.15A95.3 95.3 0 0 0 310.68 472.51Z"/>
<path fill="#F0E68C" d="M306.63 423.91A97.9 97.9 0 0 1 309.53 413.73L311.99 414.57A95.3 95.3 0 0 0 309.17 424.49Z"/>
<path fill="#FFFFE0" d="M324.43 386A97.9 97.9 0 0 1 332.03 377.23L333.89 379.04A95.3 95.3 0 0 0 326.49 387.59Z"/>
<path fill="#006400" d="M332.87 376.37A97.9 97.9 0 0 1 340.09 369.84L341.74 371.85A95.3 95.3 0 0 0 334.71 378.21Z"/>
<path fill="#00008B" d="M340.89 369.2A97.9 97.9 0 0 1 347.5 364.34L348.95 366.5A95.3 95.3 0 0 0 342.51 371.22Z"/>
<path fill="#E0FFFF" d="M356.89 358.76A97.9 97.9 0 0 1 362.59 356.03L363.64 358.4A95.3 95.3 0 0 0 358.1 361.07Z"/>
<path fill="#FF8C00" d="M362.59 356.03A97.9 97.9 0 0 1 369.58 353.26L370.45 355.71A95.3 95.3 0 0 0 363.64 358.4Z"/>
<path fill="#D3D3D3" d="M381.41 349.91A97.9 97.9 0 0 1 389.66 348.49L389.99 351.07A95.3 95.3 0 0 0 381.96 352.45Z"/>
<path fill="#9400D3" d="M390.68 348.37A97.9 97.9 0 0 1 398.85 347.75L398.94 350.35A95.3 95.3 0 0 0 390.98 350.95Z"/>
<path fill="#9400D3" d="M400.05 347.72A97.9 97.9 0 0 1 407.91 347.87L407.75 350.47A95.3 95.3 0 0 0 400.1 350.32Z"/>
<path fill="#FF8C00" d="M432.84 352.65A97.9 97.9 0 0 1 443.32 356.8L442.22 359.16A95.3 95.3 0 0 0 432.02 355.12Z"/>
<path fill="#E0FFFF" d="M443.32 356.8A97.9 97.9 0 0 1 451.64 361.16L450.33 363.4A95.3 95.3 0 0 0 442.22 359.16Z"/>
<path fill="#E0FFFF" d="M464.9 370.49A97.9 97.9 0 0 1 471.33 376.37L469.49 378.21A95.3 95.3 0 0 0 463.23 372.49Z"/>
</g>
<g>
<path fill="#FFFF00" d="M510.2 446.35A108.1 108.1 0 0 1 504.67 479.72L497.08 477.2A100.1 100.1 0 0 0 502.2 446.3Z"/>
<path fill="#0000FF" d="M504.25 480.97A108.1 108.1 0 0 1 487.86 511.41L481.51 506.54A100.1 100.1 0 0 0 496.69 478.35Z"/>
<path fill="#00FF00" d="M486.93 512.6A108.1 108.1 0 0 1 464.72 533.72L460.09 527.19A100.1 100.1 0 0 0 480.66 507.64Z"/>
<path fill="#EE82EE" d="M463.64 534.47A108.1 108.1 0 0 1 429.53 550.16L427.5 542.42A100.1 100.1 0 0 0 459.08 527.9Z"/>
<path fill="#FFA500" d="M428.43 550.44A108.1 108.1 0 0 1 420.31 552.15L418.97 544.27A100.1 100.1 0 0 0 426.49 542.68Z"/>
<path fill="#FFB6C1" d="M418.82 552.4A108.1 108.1 0 0 1 384.07 552.19L385.41 544.3A100.1 100.1 0 0 0 417.59 544.49Z"/>
<path fill="#00FFFF" d="M382.77 551.96A108.1 108.1 0 0 1 357.1 543.89L360.43 536.61A100.1 100.1 0 0 0 384.2 544.09Z"/>
<path fill="#A020F0" d="M355.9 543.33A108.1 108.1 0 0 1 346.1 538.06L350.25 531.22A100.1 100.1 0 0 0 359.32 536.1Z"/>
<path fill="#A52A2A" d="M344.98 537.37A108.1 108.1 0 0 1 336.74 531.7L341.58 525.33A100.1 100.1 0 0 0 349.2 530.58Z"/>
<path fill="#000000" d="M335.84 531.02A108.1 108.1 0 0 1 327.55 523.88L333.07 518.09A100.1 100.1 0 0 0 340.75 524.69Z"/>
<path fill="#ADD8E6" d="M326.6 522.97A108.1 108.1 0 0 1 298.72 477.21L306.37 474.87A100.1 100.1 0 0 0 332.19 517.24Z"/>
<path fill="#90EE90" d="M298.4 476.12A108.1 108.1 0 0 1 296.4 422.94L304.22 424.62A100.1 100.1 0 0 0 306.07 473.86Z"/>
<path fill="#FFB6C1" d="M296.69 421.65A108.1 108.1 0 0 1 315.54 380.85L321.95 385.64A100.1 100.1 0 0 0 304.49 423.42Z"/>
<path fill="#FFD700" d="M316.34 379.79A108.1 108.1 0 0 1 324.73 370.1L330.46 375.69A100.1 100.1 0 0 0 322.69 384.66Z"/>
<path fill="#000080" d="M325.66 369.16A108.1 108.1 0 0 1 333.63 361.95L338.7 368.14A100.1 100.1 0 0 0 331.32 374.82Z"/>
<path fill="#FF00FF" d="M334.51 361.24A108.1 108.1 0 0 1 341.81 355.88L346.27 362.52A100.1 100.1 0 0 0 339.51 367.48Z"/>
<path fill="#006400" d="M342.91 355.15A108.1 108.1 0 0 1 351.18 350.24L354.95 357.3A100.1 100.1 0 0 0 347.29 361.84Z"/>
<path fill="#F0E68C" d="M352.18 349.71A108.1 108.1 0 0 1 378.15 340.19L379.92 347.99A100.1 100.1 0 0 0 355.88 356.81Z"/>
<path fill="#D2691E" d="M379.26 339.94A108.1 108.1 0 0 1 388.36 338.38L389.38 346.31A100.1 100.1 0 0 0 380.95 347.76Z"/>
<path fill="#8B0000" d="M389.49 338.24A108.1 108.1 0 0 1 398.52 337.56L398.78 345.56A100.1 100.1 0 0 0 390.42 346.18Z"/>
<path fill="#00008B" d="M399.84 337.52A108.1 108.1 0 0 1 434.79 342.56L432.37 350.19A100.1 100.1 0 0 0 400 345.52Z"/>
<path fill="#9400D3" d="M436.04 342.97A108.1 108.1 0 0 1 470.57 361.95L465.5 368.14A100.1 100.1 0 0 0 433.53 350.56Z"/>
<path fill="#FF8C00" d="M471.44 362.67A108.1 108.1 0 0 1 491.61 384.99L484.99 389.48A100.1 100.1 0 0 0 466.31 368.81Z"/>
<path fill="#D3D3D3" d="M492.24 385.94A108.1 108.1 0 0 1 497.55 394.85L490.48 398.61A100.1 100.1 0 0 0 485.57 390.35Z"/>
<path fill="#E0FFFF" d="M498.07 395.85A108.1 108.1 0 0 1 507.34 420.92L499.56 422.74A100.1 100.1 0 0 0 490.97 399.53Z"/>
<path fill="#FFFFE0" d="M507.64 422.2A108.1 108.1 0 0 1 510.2 444.85L502.2 444.9A100.1 100.1 0 0 0 499.83 423.93Z"/>
</g>
</g>
<g font-family="Liberation Sans, sans-serif" font-size="8.2" fill="#2a2a2a" stroke="#2a2a2a" stroke-width="0.15" text-anchor="middle">
<text transform="translate(520.85 465.67) rotate(-80.6)">c1</text>
<text transform="translate(507.81 503.87) rotate(-61.7)">c2</text>
<text transform="translate(484.28 534.68) rotate(-43.55)">c4</text>
<text transform="translate(450.96 557.26) rotate(-24.7)">c5</text>
<text transform="translate(424.94 565.86) rotate(-11.9)">c6</text>
<text transform="translate(392.1 568.27) rotate(3.5)">c7</text>
<text transform="translate(362.74 562.85) rotate(17.45)">c8</text>
<text transform="translate(344.76 555.59) rotate(26.5)">c9</text>
<text transform="translate(331.94 548.21) rotate(33.4)">c10</text>
<text transform="translate(317.36 536.94) rotate(42)">c12</text>
<text transform="translate(294.64 509.54) rotate(58.65)">c13</text>
<text transform="translate(276.78 450.21) rotate(87.85)">c14</text>
<text transform="translate(293.39 396.52) rotate(294.8)">c15</text>
<text transform="translate(308.67 371.97) rotate(309)">c16</text>
<text transform="translate(318.91 360.87) rotate(316.4)">c17</text>
<text transform="translate(330.33 351.31) rotate(323.7)">c18</text>
<text transform="translate(339.95 344.95) rotate(329.35)">c19</text>
<text transform="translate(359.3 335.76) rotate(339.85)">c21</text>
<text transform="translate(376.27 330.95) rotate(348.5)">c22</text>
<text transform="translate(390.42 328.96) rotate(355.5)">c23</text>
<text transform="translate(416.29 329.8) rotate(368.2)">c24</text>
<text transform="translate(455.97 343.07) rotate(388.8)">c25</text>
<text transform="translate(486.41 367.16) rotate(407.9)">c26</text>
<text transform="translate(500.15 385.78) rotate(419.25)">c27</text>
<text transform="translate(509.33 405.01) rotate(429.7)">c28</text>
<text transform="translate(515.86 432.46) rotate(443.55)">c29</text>
</g>
</svg>
<div class="lab" style="left:130.4px;top:1.7px">a)</div>
<div class="lab" style="left:405.4px;top:1.5px">b)</div>
<div class="lab" style="left:124.4px;top:604.3px">c)</div>
<div class="lab" style="left:410.8px;top:605.2px">d)</div>
<div class="box"></div>
<div class="li" style="top:24.5px"><b>c1:</b>dlPFC(dorsal)-R</div><div class="li" style="top:42.9px"><b>c2</b>:FrontEyeFields-R</div><div class="li" style="top:61.3px"><b>c3</b>:ParsOrbitalis-R</div><div class="li" style="top:79.7px"><b>c4</b>:Temporalpole-R1</div><div class="li" style="top:98.1px"><b>c5</b>:Temporalpole-R2</div><div class="li" style="top:116.5px"><b>c6</b>:MedTempGyrus-R</div><div class="li" style="top:134.9px"><b>c7</b>:InfTempGyrus-R1</div><div class="li" style="top:153.3px"><b>c8</b>:InfTempGyrus-R2</div><div class="li" style="top:171.7px"><b>c9</b>:SupTempGyrus-R1</div><div class="li" style="top:190.1px"><b>c10</b>:SupTempGyrus-R2</div><div class="li" style="top:208.5px"><b>c11</b>:OrbFrontal-L</div><div class="li" style="top:226.9px"><b>c12</b>:AntPFC-L</div><div class="li" style="top:245.3px"><b>c13</b>:dlPFC-L</div><div class="li" style="top:263.7px"><b>c14</b>:FrontEyeFields-L1</div><div class="li" style="top:282.1px"><b>c15</b>:FrontEyeFields-L2</div><div class="li" style="top:300.5px"><b>c16</b>:FrontEyeFields-L3</div><div class="li" style="top:318.9px"><b>c17</b>:ParsOrbitalis-L1</div><div class="li" style="top:337.3px"><b>c18</b>:ParsOrbitalis-L2</div><div class="li" style="top:355.7px"><b>c19</b>:Broca-Operc-L</div><div class="li" style="top:374.1px"><b>c20</b>:PreMot+SuppMot-L1</div><div class="li" style="top:392.5px"><b>c21</b>:PreMot+SuppMot-L2</div><div class="li" style="top:410.9px"><b>c22</b>:AngGyrus-L</div><div class="li" style="top:429.3px"><b>c23</b>:Temporalpole-L1</div><div class="li" style="top:447.7px"><b>c24</b>:Temporalpole-L2</div><div class="li" style="top:466.1px"><b>c25</b>:Temporalpole-L3</div><div class="li" style="top:484.5px"><b>c26</b>:MedTempGyrus-L1</div><div class="li" style="top:502.9px"><b>c27</b>:MedTempGyrus-L2</div><div class="li" style="top:521.3px"><b>c28</b>:InfTempGyrus-L</div><div class="li" style="top:539.7px"><b>c29</b>:DorsalACC-L</div>
</div>
</body></html>
